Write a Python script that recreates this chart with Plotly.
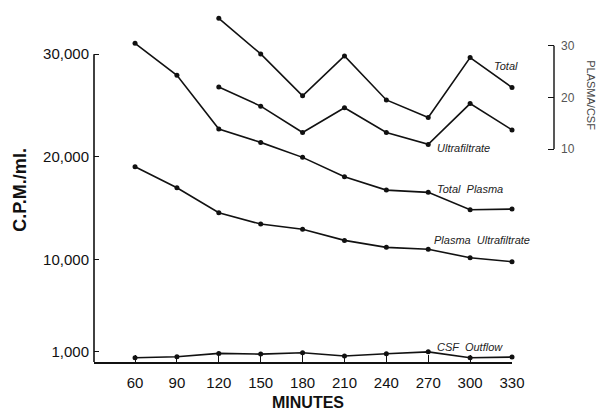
import plotly.graph_objects as go

minutes = [60, 90, 120, 150, 180, 210, 240, 270, 300, 330]
ratio_minutes = [120, 150, 180, 210, 240, 270, 300, 330]

total_plasma = [31050, 27930, 22700, 21400, 19940, 18050, 16750, 16530, 14840, 14900]
plasma_ultra = [19030, 16980, 14540, 13440, 12930, 11850, 11170, 10980, 10160, 9770]
csf_outflow = [410, 510, 840, 770, 900, 580, 800, 990, 410, 480]

ratio_total = [35.3, 28.4, 20.3, 28.0, 19.5, 16.1, 27.7, 21.9]
ratio_ultra = [22.0, 18.3, 13.2, 18.0, 13.2, 10.9, 18.8, 13.7]

left_tickvals = [1000, 10000, 20000, 30000]
left_ticktext = ["1,000", "10,000", "20,000", "30,000"]
right_tickvals = [10, 20, 30]
right_ticktext = ["10", "20", "30"]

FONT = "Liberation Sans, Arial, sans-serif"
line = dict(color="#111", width=1.6)
marker = dict(color="#111", size=5)

fig = go.Figure()
for ys in (total_plasma, plasma_ultra, csf_outflow):
    fig.add_trace(go.Scatter(x=minutes, y=ys, mode="lines+markers", line=line,
                             marker=marker, cliponaxis=False, yaxis="y", showlegend=False))
for ys in (ratio_total, ratio_ultra):
    fig.add_trace(go.Scatter(x=ratio_minutes, y=ys, mode="lines+markers", line=line,
                             marker=marker, cliponaxis=False, yaxis="y2", showlegend=False))

ann = []
lab_font = dict(family=FONT, size=11, color="#222")
for text, x, y in [("<i>Total</i>", 325.5, 28850),
                   ("<i>Ultrafiltrate</i>", 295, 20850),
                   ("<i>Total  Plasma</i>", 300, 16850),
                   ("<i>Plasma  Ultrafiltrate</i>", 308.5, 11880),
                   ("<i>CSF  Outflow</i>", 300, 1450)]:
    ann.append(dict(text=text, x=x, y=y, xref="x", yref="y", showarrow=False,
                    font=lab_font, xanchor="center", yanchor="middle"))

ann.append(dict(text="<b>C.P.M./ml.</b>", x=-0.161, y=0.489, xref="paper", yref="paper",
                showarrow=False, textangle=-90, xanchor="center", yanchor="middle",
                font=dict(family=FONT, size=18, color="#111")))
ann.append(dict(text="<b>MINUTES</b>", x=0.465, y=-0.115, xref="paper", yref="paper",
                showarrow=False, xanchor="center", yanchor="middle",
                font=dict(family=FONT, size=16, color="#111")))
ann.append(dict(text="PLASMA/CSF", x=1.080, y=0.7585, xref="paper", yref="paper",
                showarrow=False, textangle=90, xanchor="center", yanchor="middle",
                font=dict(family=FONT, size=11, color="#444")))

shapes = [
    dict(type="line", xref="paper", yref="y", x0=0, x1=0, y0=0, y1=30000,
         line=dict(color="#111", width=1.6)),
    dict(type="line", xref="paper", yref="y2", x0=1, x1=1, y0=10, y1=30,
         line=dict(color="#111", width=1.4)),
]

fig.update_layout(
    width=601, height=410,
    margin=dict(l=94, r=47, t=10, b=48),
    paper_bgcolor="white", plot_bgcolor="white",
    font=dict(family=FONT, color="#111"),
    annotations=ann, shapes=shapes,
    xaxis=dict(domain=[0, 0.9087], range=[30.6, 330], showgrid=False, zeroline=False,
               showline=True, linecolor="#111", linewidth=1.6,
               ticks="inside", ticklen=7, tickcolor="#111",
               tickvals=minutes, ticktext=[str(m) for m in minutes],
               tickfont=dict(family=FONT, size=15, color="#111"), ticklabelstandoff=6),
    yaxis=dict(range=[0, 34300], showgrid=False, zeroline=False, showline=False,
               ticks="inside", ticklen=5, tickcolor="#111",
               tickvals=left_tickvals, ticktext=left_ticktext,
               tickfont=dict(family=FONT, size=15, color="#111"), ticklabelstandoff=4),
    yaxis2=dict(range=[-31.2, 36.9], overlaying="y", side="right", anchor="free", position=1,
                showgrid=False, zeroline=False, showline=False,
                ticks="inside", ticklen=6, tickcolor="#111",
                tickvals=right_tickvals, ticktext=right_ticktext,
                tickfont=dict(family=FONT, size=12, color="#555"), ticklabelstandoff=6),
)

fig.write_html("out.html", config={"displayModeBar": False},
               post_script="document.body.style.margin='0';document.body.style.padding='0';")
